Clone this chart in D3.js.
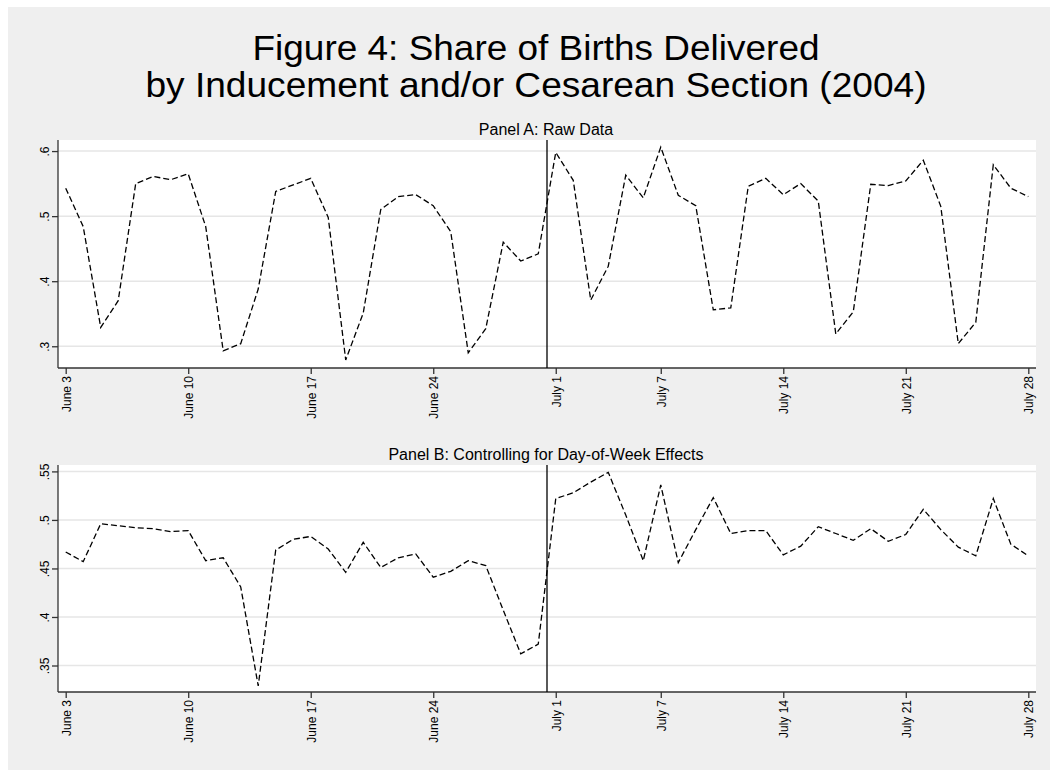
<!DOCTYPE html>
<html>
<head>
<meta charset="utf-8">
<script src="https://cdn.jsdelivr.net/npm/d3@7"></script>
<style>
  body { margin: 0; background: #fff; overflow: hidden; }
  svg { display: block; font-family: "Liberation Sans", Arial, sans-serif; }
  .grid line { stroke: #e6e6e6; stroke-width: 1.5; }
  .axis path, .axis line { stroke: #333; stroke-width: 1.3; }
  .series { fill: none; stroke: #000; stroke-width: 1.3; stroke-dasharray: 6,3; }
</style>
</head>
<body>
<script>
// days since June 3, 2004 (0 = June 3, 28 = July 1, 55 = July 28)
const days = d3.range(0, 56);
const tickDays = [0, 7, 14, 21, 28, 34, 41, 48, 55];
const tickLabels = ['June 3', 'June 10', 'June 17', 'June 24', 'July 1', 'July 7', 'July 14', 'July 21', 'July 28'];
const cutoff = 27.5;

// Panel A: raw share
const rawShare = [
  0.543, 0.484, 0.329, 0.370, 0.550, 0.561, 0.556, 0.565, 0.484, 0.293,
  0.304, 0.388, 0.538, 0.548, 0.558, 0.498, 0.279, 0.351, 0.510, 0.530,
  0.533, 0.516, 0.476, 0.290, 0.327, 0.460, 0.431, 0.442, 0.598, 0.555,
  0.371, 0.423, 0.563, 0.528, 0.606, 0.532, 0.516, 0.356, 0.359, 0.546,
  0.558, 0.533, 0.550, 0.523, 0.319, 0.353, 0.549, 0.547, 0.554, 0.586,
  0.515, 0.304, 0.337, 0.579, 0.543, 0.530
];
const rawTicks = [0.3, 0.4, 0.5, 0.6];
const rawTickLabels = ['.3', '.4', '.5', '.6'];

// Panel B: controlling for day-of-week effects
const adjShare = [
  0.467, 0.457, 0.496, 0.494, 0.492, 0.491, 0.488, 0.489, 0.458, 0.461,
  0.431, 0.329, 0.469, 0.480, 0.483, 0.470, 0.446, 0.477, 0.451, 0.461,
  0.465, 0.441, 0.447, 0.458, 0.453, 0.407, 0.362, 0.372, 0.522, 0.528,
  0.539, 0.549, 0.505, 0.458, 0.536, 0.456, 0.490, 0.523, 0.486, 0.489,
  0.489, 0.464, 0.473, 0.493, 0.486, 0.479, 0.491, 0.478, 0.485, 0.511,
  0.490, 0.472, 0.463, 0.522, 0.475, 0.463
];
const adjTicks = [0.35, 0.4, 0.45, 0.5, 0.55];
const adjTickLabels = ['.35', '.4', '.45', '.5', '.55'];

const titleLines = ['Figure 4: Share of Births Delivered', 'by Inducement and/or Cesarean Section (2004)'];

const width = 1050, height = 770;

const svg = d3.select('body').append('svg')
    .attr('width', width)
    .attr('height', height);

// outer graph region
svg.append('rect')
    .attr('x', 8).attr('y', 7)
    .attr('width', width - 8).attr('height', height - 7)
    .attr('fill', '#efefef');

// main title, fitted to the reference widths
const titleWidths = [567, 781];
svg.selectAll('.title')
    .data(titleLines)
    .enter().append('text')
    .attr('class', 'title')
    .attr('x', 536)
    .attr('y', (d, i) => 59.5 + i * 37.5)
    .attr('text-anchor', 'middle')
    .attr('font-size', 35)
    .attr('textLength', (d, i) => titleWidths[i])
    .attr('lengthAdjust', 'spacingAndGlyphs')
    .text(d => d);

const x = d3.scaleLinear().domain([-0.44, 55.44]).range([58, 1036]);

function panel(opts) {
    const y = d3.scaleLinear().domain(opts.domain).range([opts.bottom, opts.top]);
    const g = svg.append('g').attr('class', 'panel');

    // panel title
    g.append('text')
        .attr('x', 546).attr('y', opts.top - 5)
        .attr('text-anchor', 'middle')
        .attr('font-size', 16)
        .text(opts.title);

    // plot region
    g.append('rect')
        .attr('x', x.range()[0]).attr('y', opts.top)
        .attr('width', x.range()[1] - x.range()[0])
        .attr('height', opts.bottom - opts.top)
        .attr('fill', '#fff');

    // gridlines
    g.append('g').attr('class', 'grid')
        .selectAll('line')
        .data(opts.ticks)
        .enter().append('line')
        .attr('x1', x.range()[0]).attr('x2', x.range()[1])
        .attr('y1', d => y(d)).attr('y2', d => y(d));

    // y axis
    const yAxis = g.append('g').attr('class', 'axis')
        .attr('transform', `translate(${x.range()[0]},0)`)
        .call(d3.axisLeft(y).tickValues(opts.ticks).tickSize(6).tickSizeOuter(0).tickFormat(''));
    yAxis.select('.domain').attr('d', `M0,${opts.top}V${opts.bottom}`);
    yAxis.selectAll('.tick').append('text')
        .attr('transform', 'translate(-9,0) rotate(-90)')
        .attr('text-anchor', 'middle')
        .attr('fill', '#000')
        .attr('font-size', 12)
        .text((d, i) => opts.tickLabels[i]);

    // x axis
    const xAxis = g.append('g').attr('class', 'axis')
        .attr('transform', `translate(0,${opts.bottom})`)
        .call(d3.axisBottom(x).tickValues(tickDays).tickSize(6).tickSizeOuter(0).tickFormat(''));
    xAxis.select('.domain').attr('d', `M${x.range()[0]},0H${x.range()[1]}`);
    xAxis.selectAll('.tick').append('text')
        .attr('transform', 'translate(4.5,8) rotate(-90)')
        .attr('text-anchor', 'end')
        .attr('fill', '#000')
        .attr('font-size', 12)
        .text((d, i) => tickLabels[i]);

    // cutoff line
    g.append('line')
        .attr('x1', x(cutoff)).attr('x2', x(cutoff))
        .attr('y1', opts.top).attr('y2', opts.bottom)
        .attr('stroke', '#000').attr('stroke-width', 1.3);

    // series
    const line = d3.line().x((d, i) => x(days[i])).y(d => y(d));
    g.append('path')
        .datum(opts.values)
        .attr('class', 'series')
        .attr('d', line);
}

panel({
    title: 'Panel A: Raw Data',
    values: rawShare,
    ticks: rawTicks,
    tickLabels: rawTickLabels,
    domain: [0.2666, 0.617],
    top: 140,
    bottom: 368
});

panel({
    title: 'Panel B: Controlling for Day-of-Week Effects',
    values: adjShare,
    ticks: adjTicks,
    tickLabels: adjTickLabels,
    domain: [0.3227, 0.5566],
    top: 465,
    bottom: 692
});
</script>
</body>
</html>
